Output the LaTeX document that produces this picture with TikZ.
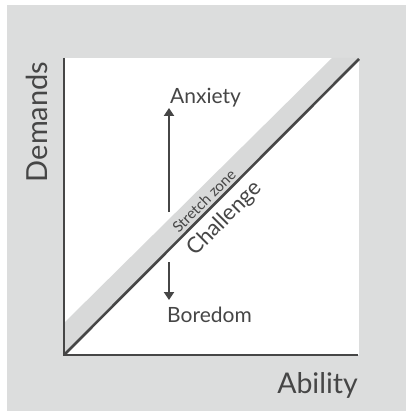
\documentclass[tikz,border=0pt]{standalone}
\usepackage{fontspec}
\setmainfont{Lato}
\usetikzlibrary{arrows.meta}
\definecolor{bggray}{HTML}{DCDDDD}
\definecolor{bandgray}{HTML}{D8D9D9}
\definecolor{ink}{HTML}{464646}

\begin{document}
\begin{tikzpicture}[x=1pt, y=-1pt,
    axis/.style={draw=ink, line width=2.6pt},
    updown/.style={draw=ink, line width=2.2pt, -{Triangle[width=10pt,length=8pt]}},
    label/.style={text=ink, inner sep=0pt}]
    % background and plot area
    \useasboundingbox (0,0) rectangle (406,411);
    \fill[bggray] (7,5) rectangle (406,411);
    \fill[white] (64,58) rectangle (359,355);
    \fill[bandgray] (64,355) -- (64,323) -- (332,58) -- (359,58) -- cycle;

    \coordinate (o) at (64,355);
    \coordinate (ytop) at (64,58);
    \coordinate (xend) at (358,355);
    \coordinate (dtop) at (359,59);

    \draw[axis] (ytop) -- (o) -- (xend);
    \draw[axis] (o) -- (dtop);

    \node[label, font=\fontsize{29}{29}\selectfont, rotate=90] (demands) at (37,122) {Demands};
    \node[label, font=\fontsize{28.5}{28.5}\selectfont, anchor=base east] (ability) at (358,393) {Ability};

    \node[label, font=\fontsize{21}{21}\selectfont, anchor=base west] (anxiety) at (170,104) {Anxiety};
    \node[label, font=\fontsize{21}{21}\selectfont, anchor=base west] (boredom) at (167,322) {Boredom};

    \node[label, font=\fontsize{15}{15}\selectfont, rotate=45] (stretch) at (204,201) {Stretch zone};
    \node[label, font=\fontsize{22}{22}\selectfont, rotate=45] (challenge) at (225,219) {Challenge};

    \coordinate (upfrom) at (169,212);
    \coordinate (downfrom) at (169,262);
    \draw[updown] (upfrom) -- (upfrom |- 0,108);
    \draw[updown] (downfrom) -- (downfrom |- 0,300);
\end{tikzpicture}
\end{document}
